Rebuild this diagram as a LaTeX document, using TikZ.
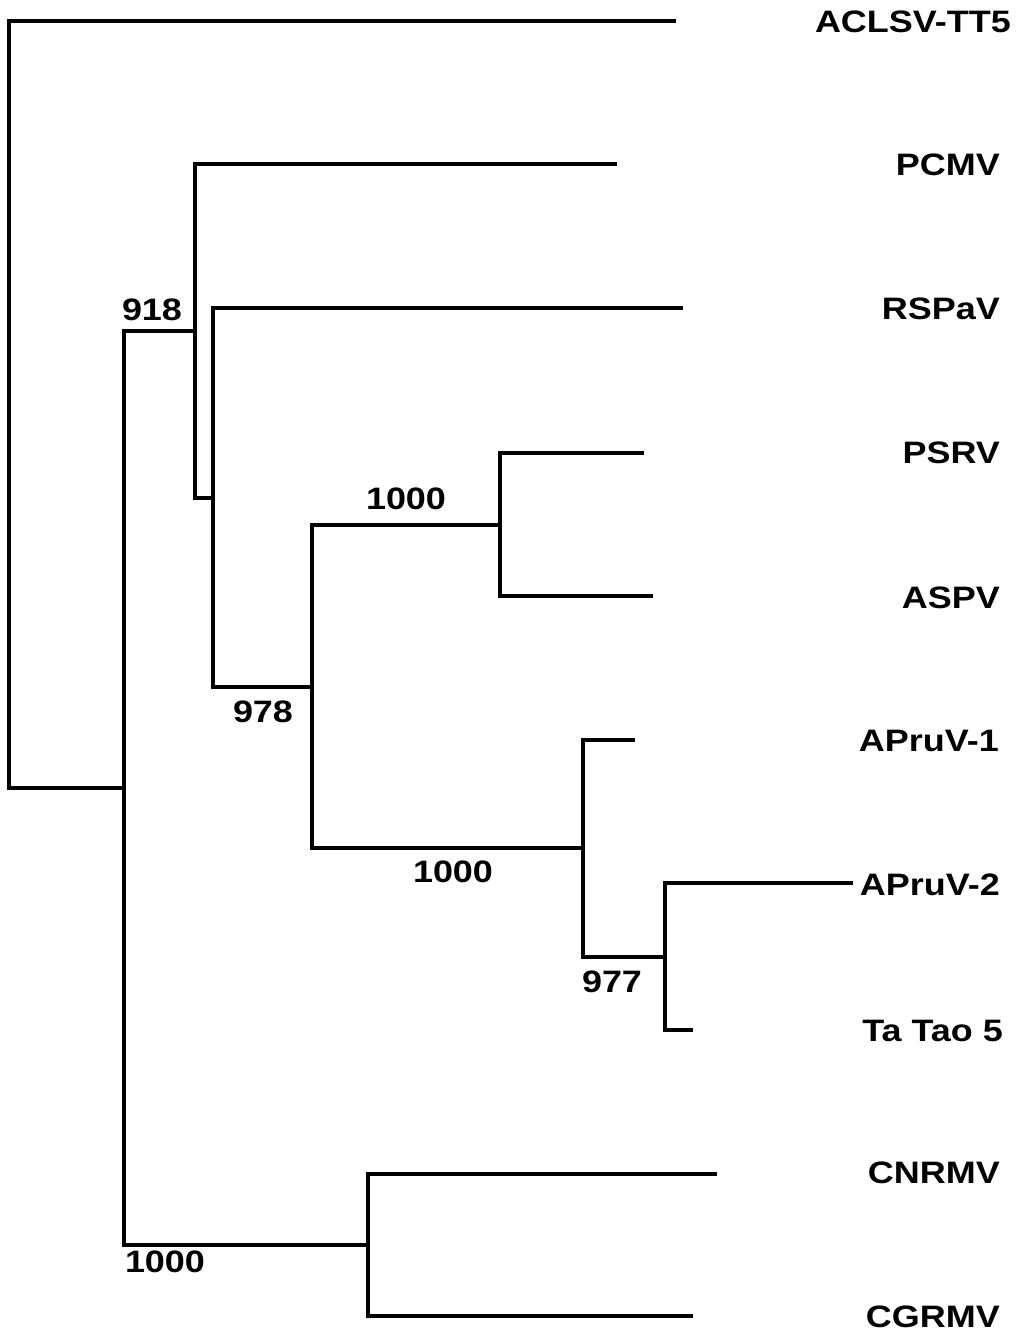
\documentclass[tikz,border=0pt]{standalone}
\usepackage{fontspec}
\setmainfont{Liberation Sans}[FakeStretch=1.16]
\begin{document}
\begin{tikzpicture}[x=1pt,y=-1pt,
  branch/.style={line width=3.6pt,line join=miter},
  taxon/.style={anchor=east,inner sep=0pt,font=\fontsize{31}{31}\selectfont\bfseries},
  boot/.style={anchor=center,inner sep=0pt,font=\fontsize{31}{31}\selectfont\bfseries}]
\useasboundingbox (0,0) rectangle (1016,1332);
% internal nodes
\coordinate (r) at (9,788);
\coordinate (a) at (124,788);
\coordinate (b) at (195,331);
\coordinate (c) at (213,498);
\coordinate (d) at (312,687);
\coordinate (e) at (500,525);
\coordinate (f) at (583,848);
\coordinate (h) at (665,957);
\coordinate (g) at (368,1245);
% leaf ends
\coordinate (l1) at (676,21);
\coordinate (l2) at (617,164);
\coordinate (l3) at (683,308);
\coordinate (l4) at (644,453);
\coordinate (l5) at (653,596);
\coordinate (l6) at (635,740);
\coordinate (l7) at (853,883);
\coordinate (l8) at (693,1030);
\coordinate (l9) at (717,1174);
\coordinate (l10) at (693,1316);
% branches
\draw[branch] (a) -- (r) |- (l1);
\draw[branch] (b) -| (a) |- (g);
\draw[branch] (l2) -| (b) |- (c);
\draw[branch] (l3) -| (c) |- (d);
\draw[branch] (e) -| (d) |- (f);
\draw[branch] (l4) -| (e) |- (l5);
\draw[branch] (l6) -| (f) |- (h);
\draw[branch] (l7) -| (h) |- (l8);
\draw[branch] (l9) -| (g) |- (l10);
% taxa
\node[taxon] (t1) at (1011,22) {ACLSV-TT5};
\node[taxon] (t2) at (1000,165) {PCMV};
\node[taxon] (t3) at (1000,309) {RSPaV};
\node[taxon] (t4) at (1000,453) {PSRV};
\node[taxon] (t5) at (1000,598) {ASPV};
\node[taxon] (t6) at (999,741) {APruV-1};
\node[taxon] (t7) at (1000,885) {APruV-2};
\node[taxon] (t8) at (1003,1031) {Ta Tao 5};
\node[taxon] (t9) at (1000,1173) {CNRMV};
\node[taxon] (t10) at (1000,1317) {CGRMV};
% bootstrap values
\node[boot] (s1) at (152,310) {918};
\node[boot] (s2) at (406,499) {1000};
\node[boot] (s3) at (263,712) {978};
\node[boot] (s4) at (453,872) {1000};
\node[boot] (s5) at (612,982) {977};
\node[boot] (s6) at (165,1262) {1000};
\end{tikzpicture}
\end{document}
